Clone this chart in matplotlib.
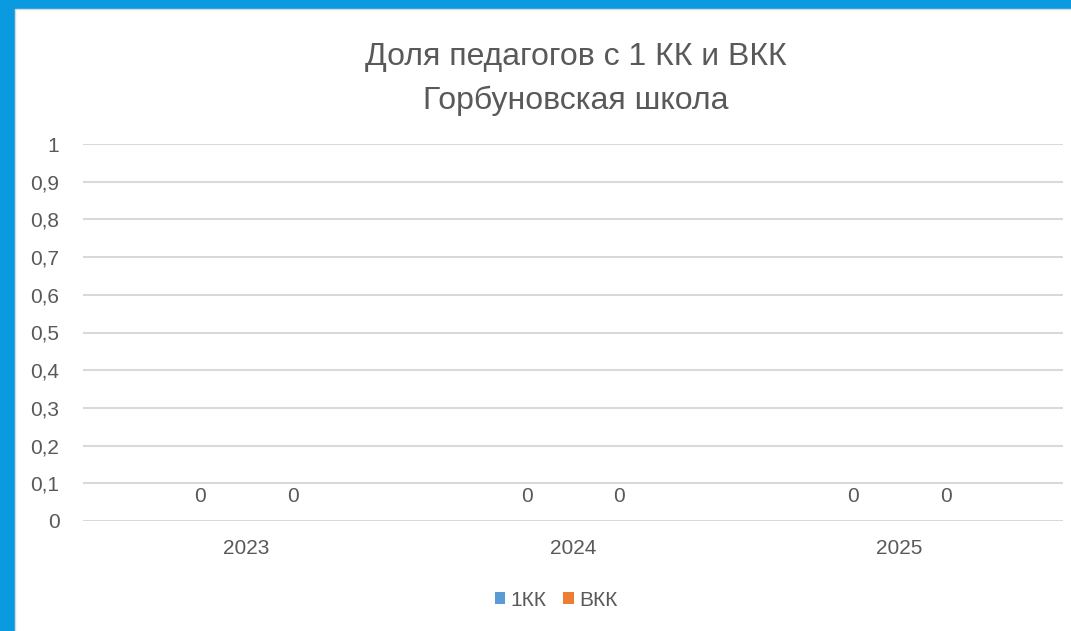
import numpy as np
import matplotlib.pyplot as plt
from matplotlib.patches import Rectangle

years = ['2023', '2024', '2025']
kk1 = [0, 0, 0]
vkk = [0, 0, 0]
series_names = ['1КК', 'ВКК']
yticks = [0, 0.1, 0.2, 0.3, 0.4, 0.5, 0.6, 0.7, 0.8, 0.9, 1]
ytick_labels = ['0', '0,1', '0,2', '0,3', '0,4', '0,5', '0,6', '0,7', '0,8', '0,9', '1']

plt.rcParams['font.family'] = ['Liberation Sans', 'DejaVu Sans']
txt = '#595959'
fs = 15

fig = plt.figure(figsize=(10.71, 6.31), dpi=100)
fig.patch.set_facecolor('#0A9AE0')
# white chart panel
fig.patches.append(Rectangle((15 / 1071, -0.01), 1, 1.01 - 9 / 631, transform=fig.transFigure,
                             facecolor='white', edgecolor='#D9D9D9', lw=1, zorder=-10))

ax = fig.add_axes([83 / 1071, 1 - 521 / 631, (1063 - 83) / 1071, (521 - 144) / 631])
ax.set_facecolor('none')

x = np.arange(len(years))
w = 0.284
b1 = ax.bar(x - w / 2, kk1, w, color='#5B9BD5', label=series_names[0])
b2 = ax.bar(x + w / 2, vkk, w, color='#ED7D31', label=series_names[1])
for bars in (b1, b2):
    ax.bar_label(bars, labels=[f'{v:g}'.replace('.', ',') for v in bars.datavalues],
                 padding=11, color=txt, fontsize=fs)

ax.set_xlim(-0.5, 2.5)
ax.set_ylim(0, 1)
ax.set_xticks(x, years)
ax.set_yticks(yticks, ytick_labels)
ax.tick_params(length=0, colors=txt, labelsize=fs)
ax.tick_params(axis='x', pad=13)
ax.tick_params(axis='y', pad=17)
ax.grid(axis='y', color='#D9D9D9', lw=1.5)
ax.set_axisbelow(True)
for s in ax.spines.values():
    s.set_visible(False)

fig.text(0.538, 1 - 57 / 631, 'Доля педагогов с 1 КК и ВКК', ha='center', va='center',
         fontsize=23, color=txt)
fig.text(0.538, 1 - 101 / 631, 'Горбуновская школа', ha='center', va='center',
         fontsize=23, color=txt)

fig.legend(handles=[b1, b2], loc='center', bbox_to_anchor=(556 / 1071, 1 - 600 / 631),
           ncol=2, frameon=False, fontsize=fs, labelcolor=txt, handlelength=0.5,
           handleheight=0.5, handletextpad=0.25, columnspacing=0.8)

fig.savefig('out.png', dpi=100, facecolor=fig.get_facecolor())
